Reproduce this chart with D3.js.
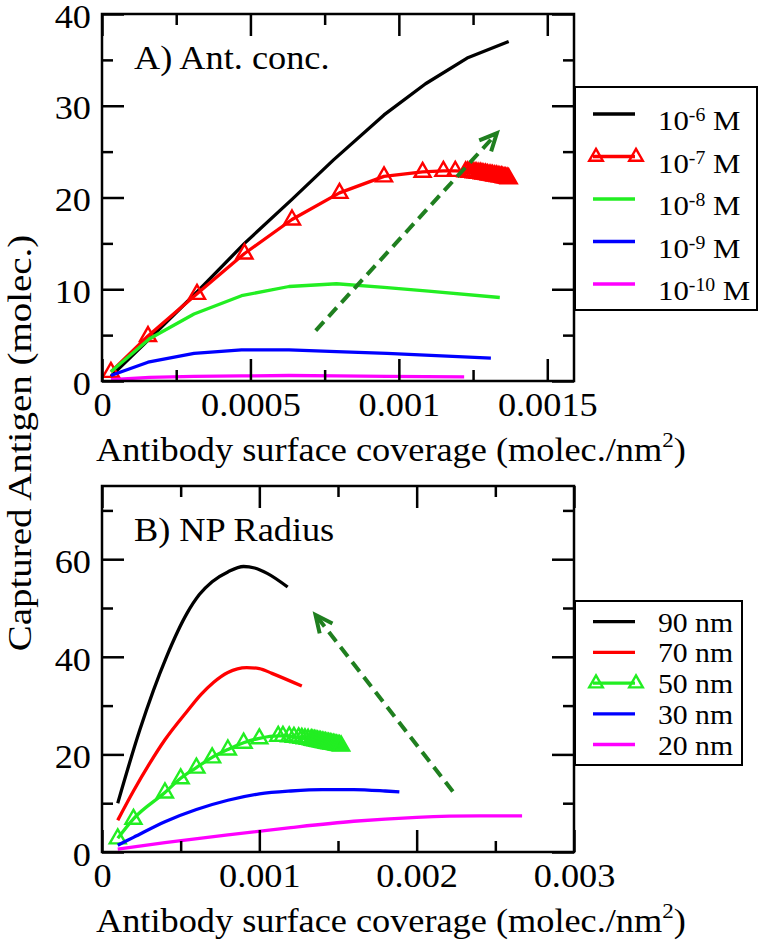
<!DOCTYPE html>
<html>
<head>
<meta charset="utf-8">
<script src="https://cdn.jsdelivr.net/npm/d3@7"></script>
<style>
  body { margin: 0; background: #fff; }
  svg text { font-family: "Liberation Serif", "Times New Roman", serif; fill: #000; }
</style>
</head>
<body>
<div id="chart"></div>
<script>
// ---- values: [coverage (molec./nm^2), captured antigen] ----

// panel A: antigen concentration
const concE6 = [[0.00003, 0.5], [0.00016, 4.6], [0.00032, 9.7], [0.00048, 15.0], [0.00064, 19.8],
  [0.00078, 24.1], [0.00095, 29.0], [0.00109, 32.4], [0.00123, 35.2], [0.00137, 37.0]];
const concE7 = [[0.00003, 1.0], [0.000155, 4.9], [0.00032, 9.5], [0.00048, 13.9], [0.00064, 17.6],
  [0.0008, 20.5], [0.00095, 22.3], [0.00108, 22.8], [0.00115, 22.9], [0.00119, 22.9],
  [0.001225, 22.85], [0.001232, 22.85], [0.001239, 22.8], [0.001246, 22.8], [0.001253, 22.75],
  [0.00126, 22.75], [0.001267, 22.7], [0.001274, 22.7], [0.00128, 22.65], [0.001286, 22.6],
  [0.001292, 22.6], [0.001298, 22.55], [0.001304, 22.5], [0.00131, 22.5], [0.001316, 22.45],
  [0.001322, 22.4], [0.001328, 22.4], [0.001334, 22.35], [0.00134, 22.3], [0.001345, 22.3],
  [0.00135, 22.25], [0.001355, 22.2], [0.00136, 22.2], [0.001365, 22.15], [0.00137, 22.1]];
const concE8 = [[0.00003, 1.0], [0.00016, 4.6], [0.00031, 7.3], [0.00047, 9.3], [0.00063, 10.3],
  [0.00079, 10.6], [0.00095, 10.2], [0.0011, 9.8], [0.00134, 9.1]];
const concE9 = [[0.00003, 0.6], [0.000155, 2.05], [0.00031, 3.0], [0.00047, 3.4], [0.00063, 3.4],
  [0.00079, 3.2], [0.00096, 3.0], [0.00131, 2.5]];
const concE10 = [[0.00003, 0.15], [0.00016, 0.4], [0.00031, 0.5], [0.00047, 0.55], [0.00063, 0.6],
  [0.00079, 0.55], [0.00096, 0.5], [0.00122, 0.45]];
const arrowA = [[0.00072, 5.5], [0.00133, 27.0]];

// panel B: nanoparticle radius
const radius90 = [[0.0001, 10.0], [0.00024, 25], [0.00041, 40], [0.00054, 48.9], [0.00062, 52.8],
  [0.0007, 55.4], [0.0008, 57.4], [0.0009, 58.5], [0.00097, 58.2], [0.00105, 57.1], [0.00118, 54.3]];
const radius70 = [[0.0001, 6.5], [0.0002, 12.5], [0.0003, 18], [0.0004, 23], [0.00054, 28.8],
  [0.00063, 32.3], [0.00071, 34.8], [0.0008, 36.8], [0.00092, 37.8], [0.001, 37.6],
  [0.00108, 36.6], [0.00127, 34.0]];
const radius50 = [[0.0001, 2.8], [0.0002, 6.8], [0.0004, 12.2], [0.0005, 15.1], [0.0006, 17.3],
  [0.0007, 19.4], [0.0008, 21.0], [0.0009, 22.4], [0.001, 23.3], [0.00112, 23.8],
  [0.00115, 23.8], [0.00119, 23.7], [0.00122, 23.6], [0.00125, 23.5], [0.00127, 23.4],
  [0.00129, 23.3], [0.00131, 23.2], [0.00133, 23.1], [0.00134, 23.0], [0.00135, 22.95],
  [0.00136, 22.9], [0.00137, 22.8], [0.00138, 22.75], [0.00139, 22.7], [0.0014, 22.6],
  [0.00141, 22.55], [0.00142, 22.5], [0.00143, 22.4], [0.00144, 22.35], [0.00145, 22.3],
  [0.00146, 22.2], [0.00147, 22.15], [0.00148, 22.1], [0.00149, 22.0], [0.0015, 21.95],
  [0.00151, 21.9], [0.00152, 21.8]];
const radius30 = [[0.0001, 1.4], [0.0002, 3.0], [0.0004, 6.2], [0.0006, 8.7], [0.0008, 10.6],
  [0.001, 11.9], [0.0012, 12.5], [0.0014, 12.8], [0.0016, 12.8], [0.0018, 12.5], [0.00189, 12.3]];
const radius20 = [[0.0001, 0.6], [0.0004, 1.9], [0.0008, 3.5], [0.0012, 5.0], [0.0016, 6.3],
  [0.002, 7.1], [0.0024, 7.4], [0.00267, 7.4]];
const arrowB = [[0.00223, 12.4], [0.001357, 48.6]];

// ticks
const xMajorA = [0, 0.0005, 0.001, 0.0015];
const xMinorA = [0.00025, 0.00075, 0.00125];
const yMajorA = [0, 10, 20, 30, 40];
const yMinorA = [5, 15, 25, 35];
const xMajorB = [0, 0.001, 0.002, 0.003];
const xMinorB = [0.0005, 0.0015, 0.0025];
const yMajorB = [0, 20, 40, 60];
const yMinorB = [10, 30, 50, 70];

const legendA = ["-6", "-7", "-8", "-9", "-10"];
const legendB = ["90 nm", "70 nm", "50 nm", "30 nm", "20 nm"];
const COLORS = ["#000000", "#ff0000", "#22ee22", "#0000ff", "#ff00ff"];
const ARROW_COLOR = "#1f7f1f";

// ---- layout ----
const WIDTH = 760, HEIGHT = 941;
const FRAME = { LEFT: 102, RIGHT: 574 };
const STRETCH = 1.1; // the serif face in the figure is a little wider than Liberation Serif

const svg = d3.select("#chart").append("svg")
  .attr("width", WIDTH).attr("height", HEIGHT);

// open triangle centred on its centroid
const triangle = (s) => `M0,${-9 * s}L${8 * s},${5 * s}L${-8 * s},${5 * s}Z`;

function stretchedText(parent, x, y, size) {
  return parent.append("text")
    .attr("transform", `translate(${x},${y}) scale(${STRETCH},1)`)
    .attr("font-size", size);
}

function drawPanel(p) {
  const x = d3.scaleLinear().domain(p.xDomain).range([FRAME.LEFT, FRAME.RIGHT]);
  const y = d3.scaleLinear().domain(p.yDomain).range([p.bottom, p.top]);
  const g = svg.append("g");

  // curves
  const line = d3.line().x((d) => x(d[0])).y((d) => y(d[1])).curve(p.curve);
  p.series.forEach((s, i) => {
    g.append("path")
      .attr("fill", "none")
      .attr("stroke", COLORS[i])
      .attr("stroke-width", 3.3)
      .attr("stroke-linejoin", "round")
      .attr("d", line(s));
    if (i === p.markerIndex) {
      g.selectAll(null).data(s).enter().append("path")
        .attr("d", triangle(1))
        .attr("transform", (d) => `translate(${x(d[0])},${y(d[1])})`)
        .attr("fill", "none")
        .attr("stroke", COLORS[i])
        .attr("stroke-width", 2.4);
    }
  });

  // dashed trend arrow
  const [t0, t1] = p.arrow.map((d) => [x(d[0]), y(d[1])]);
  g.append("line")
    .attr("x1", t0[0]).attr("y1", t0[1]).attr("x2", t1[0]).attr("y2", t1[1])
    .attr("stroke", ARROW_COLOR).attr("stroke-width", 4)
    .attr("stroke-dasharray", "12,7");
  const ang = Math.atan2(t0[1] - t1[1], t0[0] - t1[0]);
  const head = [ang - 0.44, ang + 0.44].map((a) => [t1[0] + 19 * Math.cos(a), t1[1] + 19 * Math.sin(a)]);
  g.append("path")
    .attr("d", `M${head[0]}L${t1}L${head[1]}`)
    .attr("fill", "none").attr("stroke", ARROW_COLOR).attr("stroke-width", 4);

  // frame
  g.append("rect")
    .attr("x", FRAME.LEFT).attr("y", p.top)
    .attr("width", FRAME.RIGHT - FRAME.LEFT).attr("height", p.bottom - p.top)
    .attr("fill", "none").attr("stroke", "#000").attr("stroke-width", 2.5);

  // inward ticks on all four sides
  function ticks(axisFn, scale, values, size, translate) {
    const a = g.append("g").attr("transform", translate)
      .call(axisFn(scale).tickValues(values).tickSize(size).tickFormat(""));
    a.select(".domain").remove();
    a.selectAll("line").attr("stroke", "#000").attr("stroke-width", 2.5);
  }
  ticks(d3.axisBottom, x, p.xMajor, -22, `translate(0,${p.bottom})`);
  ticks(d3.axisBottom, x, p.xMinor, -11, `translate(0,${p.bottom})`);
  ticks(d3.axisTop, x, p.xMajor, -22, `translate(0,${p.top})`);
  ticks(d3.axisTop, x, p.xMinor, -11, `translate(0,${p.top})`);
  ticks(d3.axisLeft, y, p.yMajor, -22, `translate(${FRAME.LEFT},0)`);
  ticks(d3.axisLeft, y, p.yMinor, -11, `translate(${FRAME.LEFT},0)`);
  ticks(d3.axisRight, y, p.yMajor, -22, `translate(${FRAME.RIGHT},0)`);
  ticks(d3.axisRight, y, p.yMinor, -11, `translate(${FRAME.RIGHT},0)`);

  // tick labels
  const xl = g.append("g").attr("transform", `translate(0,${p.bottom})`)
    .call(d3.axisBottom(x).tickValues(p.xMajor).tickSize(0).tickPadding(12).tickFormat(String));
  const yl = g.append("g").attr("transform", `translate(${FRAME.LEFT},0)`)
    .call(d3.axisLeft(y).tickValues(p.yMajor).tickSize(0).tickPadding(10).tickFormat(String));
  [xl, yl].forEach((a) => {
    a.select(".domain").remove();
    a.attr("font-size", 33).attr("font-family", null);
    a.selectAll("text").attr("fill", "#000").attr("transform", `scale(${STRETCH},1)`);
  });
  yl.selectAll("text").attr("dy", "0.4em");

  // x title
  const xt = stretchedText(g, 96, p.bottom + 80, 33).text("Antibody surface coverage (molec./nm");
  xt.append("tspan").attr("font-size", 21).attr("dy", -14).text("2");
  xt.append("tspan").attr("font-size", 33).attr("dy", 14).text(")");

  // panel tag
  stretchedText(g, 134, p.top + 55, 33).text(p.tag);

  // legend
  const lg = g.append("g");
  lg.append("rect")
    .attr("x", p.legend.x).attr("y", p.legend.y)
    .attr("width", p.legend.w).attr("height", p.legend.h)
    .attr("fill", "#fff").attr("stroke", "#000").attr("stroke-width", 2);
  p.legend.labels.forEach((lab, i) => {
    const ry = p.legend.row0 + i * p.legend.step;
    lg.append("line")
      .attr("x1", 593).attr("x2", 635).attr("y1", ry).attr("y2", ry)
      .attr("stroke", COLORS[i]).attr("stroke-width", 3.3);
    if (i === p.markerIndex) {
      lg.selectAll(null).data([596, 636]).enter().append("path")
        .attr("d", triangle(0.85))
        .attr("transform", (d) => `translate(${d},${ry})`)
        .attr("fill", "none").attr("stroke", COLORS[i]).attr("stroke-width", 2.4);
    }
    p.legend.write(stretchedText(lg, 658, ry + p.legend.textDy, p.legend.size), lab);
  });
}

drawPanel({
  xDomain: [0, 0.00159], yDomain: [0, 40], top: 14, bottom: 381,
  curve: d3.curveLinear,
  series: [concE6, concE7, concE8, concE9, concE10], markerIndex: 1,
  arrow: arrowA,
  xMajor: xMajorA, xMinor: xMinorA, yMajor: yMajorA, yMinor: yMinorA,
  tag: "A) Ant. conc.",
  legend: {
    x: 575, y: 87, w: 182, h: 223, row0: 114, step: 42.5, textDy: 16, size: 28,
    labels: legendA,
    write: (t, lab) => {
      t.text("10");
      t.append("tspan").attr("font-size", 18).attr("dy", -9).text(lab);
      t.append("tspan").attr("font-size", 28).attr("dy", 9).text(" M");
    }
  }
});

drawPanel({
  xDomain: [0, 0.003], yDomain: [0, 75], top: 486, bottom: 852,
  curve: d3.curveMonotoneX,
  series: [radius90, radius70, radius50, radius30, radius20], markerIndex: 2,
  arrow: arrowB,
  xMajor: xMajorB, xMinor: xMinorB, yMajor: yMajorB, yMinor: yMinorB,
  tag: "B) NP Radius",
  legend: {
    x: 575, y: 601, w: 167, h: 164, row0: 621.7, step: 30.7, textDy: 10, size: 27,
    labels: legendB,
    write: (t, lab) => t.text(lab)
  }
});

// shared y title
svg.append("text")
  .attr("transform", "translate(31,443) rotate(-90) scale(1.13,1)")
  .attr("text-anchor", "middle")
  .attr("font-size", 34.5)
  .text("Captured Antigen (molec.)");
</script>
</body>
</html>
